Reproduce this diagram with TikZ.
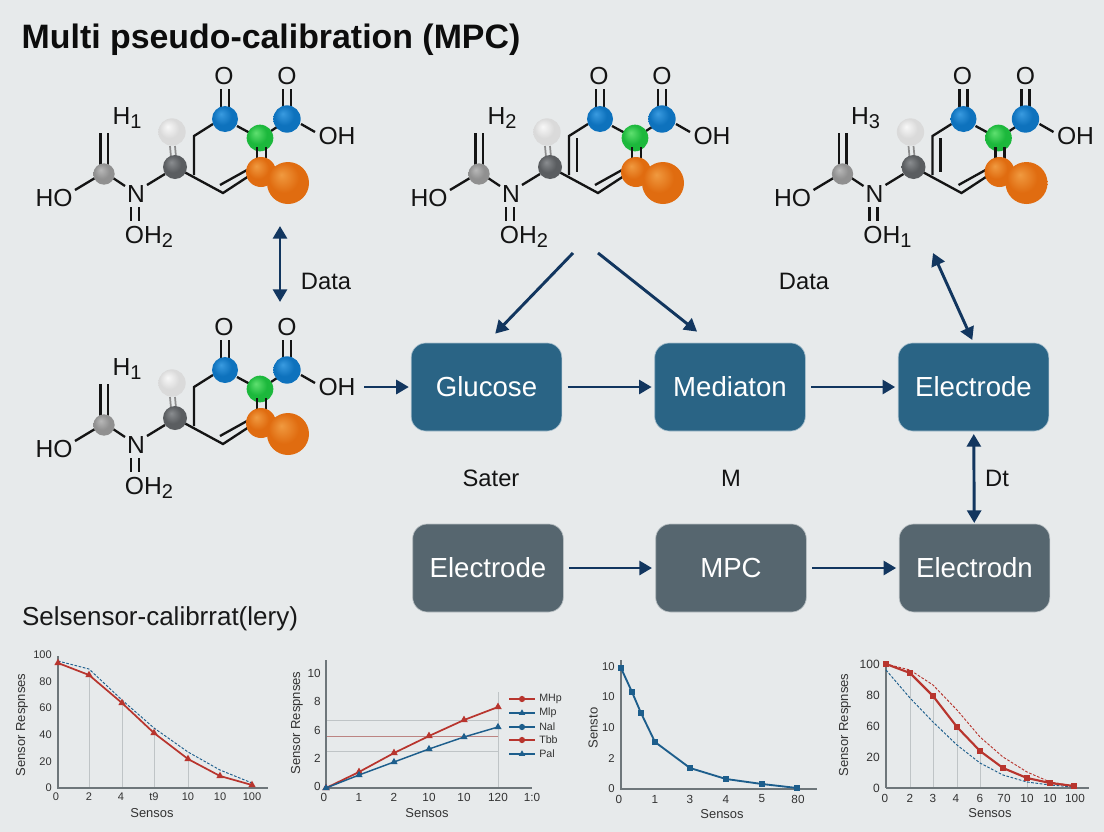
\documentclass[tikz,border=0pt]{standalone}
\usepackage{fontspec}
\setmainfont{Liberation Sans}
\usetikzlibrary{arrows.meta,plotmarks}
\definecolor{bgc}{HTML}{E7EAEB}
\definecolor{boxblue}{HTML}{2A6485}
\definecolor{boxgrey}{HTML}{56666F}
\definecolor{arrc}{HTML}{12365F}
\definecolor{axc}{HTML}{6E767A}
\definecolor{gridc}{HTML}{BFC4C6}
\definecolor{redl}{HTML}{B8352E}
\definecolor{bluel}{HTML}{1D5E8C}
\definecolor{bA}{HTML}{3A9BE0}\definecolor{bB}{HTML}{0E72BD}\definecolor{bC}{HTML}{0A5790}
\definecolor{gA}{HTML}{5FE070}\definecolor{gB}{HTML}{1CB83C}\definecolor{gC}{HTML}{0F8A2A}
\definecolor{oA}{HTML}{F09A40}\definecolor{oB}{HTML}{E06C10}\definecolor{oC}{HTML}{B55008}
\definecolor{wA}{HTML}{F8F8F8}\definecolor{wB}{HTML}{DADADA}\definecolor{wC}{HTML}{B0B0B0}
\definecolor{cA}{HTML}{B8B8B8}\definecolor{cB}{HTML}{909090}\definecolor{cC}{HTML}{6E6E6E}
\definecolor{dA}{HTML}{8A8D90}\definecolor{dB}{HTML}{5A5D60}\definecolor{dC}{HTML}{3C3F42}
\pgfdeclareradialshading{sblue}{\pgfpoint{-8bp}{10bp}}{color(0bp)=(bA);color(18bp)=(bB);color(38bp)=(bB);color(50bp)=(bC)}
\pgfdeclareradialshading{sgreen}{\pgfpoint{-8bp}{10bp}}{color(0bp)=(gA);color(18bp)=(gB);color(38bp)=(gB);color(50bp)=(gC)}
\pgfdeclareradialshading{sorange}{\pgfpoint{-8bp}{10bp}}{color(0bp)=(oA);color(18bp)=(oB);color(38bp)=(oB);color(50bp)=(oC)}
\pgfdeclareradialshading{swhite}{\pgfpoint{-8bp}{10bp}}{color(0bp)=(wA);color(18bp)=(wB);color(38bp)=(wB);color(50bp)=(wC)}
\pgfdeclareradialshading{sgray}{\pgfpoint{-8bp}{10bp}}{color(0bp)=(cA);color(18bp)=(cB);color(38bp)=(cB);color(50bp)=(cC)}
\pgfdeclareradialshading{sdark}{\pgfpoint{-8bp}{10bp}}{color(0bp)=(dA);color(18bp)=(dB);color(38bp)=(dB);color(50bp)=(dC)}
\newcommand{\fs}[1]{\fontsize{#1}{#1}\selectfont}
\newcommand{\subdig}[1]{\raisebox{-0.28ex}{\fs{15}#1}}
\newcounter{lb}
\newcommand{\lbl}[3][]{\stepcounter{lb}\node[#1] (lb\thelb) at (#2) {#3};}
\tikzset{
  x=.75pt,y=-.75pt,
  atom/.style={circle,inner sep=0pt,draw=none},
  chem/.style={inner sep=0pt,font=\fs{18.5},text=black!92},
  bond/.style={line width=1.75pt,color=black!92},
  lite/.style={line width=1.3pt,color=black!45},
  flow/.style={rounded corners=11pt,minimum width=113pt,minimum height=66pt,inner sep=0pt,text=white,font=\fs{20.7},draw=white!60!boxblue,line width=.5pt},
  arr/.style={line width=2.2pt,color=arrc,-{Triangle[length=9.5pt,width=10.5pt]}},
  darr/.style={line width=2.2pt,color=arrc,{Triangle[length=9.5pt,width=10.5pt]}-{Triangle[length=9.5pt,width=10.5pt]}},
  capt/.style={inner sep=0pt,font=\fs{17.8},text=black!92},
  tklab/.style={inner sep=0pt,font=\fs{8.3},text=black!80},
  atitle/.style={inner sep=0pt,font=\fs{9.7},text=black!80},
  ytitle/.style={inner sep=0pt,font=\fs{9.8},text=black!80,rotate=90},
  axisl/.style={line width=.9pt,color=axc},
  gridl/.style={line width=.6pt,color=gridc},
  redp/.style={line width=1.3pt,color=redl},
  bluep/.style={line width=1.1pt,color=bluel},
  reddash/.style={line width=.7pt,color=redl,dash pattern=on 2pt off 1.2pt},
  bluedash/.style={line width=.7pt,color=bluel,dash pattern=on 2pt off 1.2pt},
}
% #1 prefix, #2 dx, #3 dy, #4 H label, #5 lower label, #6 extra ring line 
\newcommand{\mol}[6]{%
\begin{scope}[shift={(#2,#3)}]
  \node[chem] (#1-o1) at (224,76) {O};
  \node[chem] (#1-o2) at (287,76) {O};
  \node[chem] (#1-oh) at (337,136) {OH};
  \node[chem] (#1-ho) at (54,198) {HO};
  \node[chem] (#1-n) at (136,194) {N};
  \node[chem] (#1-low) at (149,237) {#5};
  \node[chem] (#1-h) at (127,118) {#4};
  \coordinate (#1-r1) at (194,136);
  \coordinate (#1-r2) at (194,175);
  \coordinate (#1-r3) at (223,193);
  \draw[bond] (#1-r2) -- (#1-r1) -- (213,124);
  \draw[bond] (175,167) -- (#1-r3) -- (252,174);
  \draw[bond] (220,185) -- (247,170);
  #6
  \draw[bond] (237,126) -- (250,133);
  \draw[bond] (271,131) -- (277,127);
  \draw[bond] (301,124) -- (315,132);
  \draw[bond] (221,89) -- (221,108); \draw[bond] (229,89) -- (229,108);
  \draw[bond] (283,89) -- (283,108); \draw[bond] (291,89) -- (291,108);
  \draw[bond] (100.5,133) -- (100.5,165); \draw[bond] (108,133) -- (108,165);
  \draw[bond] (75,190) -- (95,178);
  \draw[bond] (113,178) -- (125,186);
  \draw[bond] (147,185) -- (165,174);
  \draw[bond] (131,207) -- (131,221); \draw[bond] (139,207) -- (139,221);
  \draw[lite] (170,146) -- (171,157); \draw[lite] (175,146) -- (176,157);
  \node[atom,minimum size=19.5pt,shading=sblue] (#1-b1) at (225,119) {};
  \node[atom,minimum size=20.5pt,shading=sblue] (#1-b2) at (287,119) {};
  \node[atom,minimum size=20pt,shading=sgreen] (#1-g) at (260,138) {};
  \draw[bond] (257,147) -- (257,160); \draw[bond] (266,147) -- (266,160);
  \node[atom,minimum size=22.5pt,shading=sorange] (#1-s) at (261,172) {};
  \node[atom,minimum size=31.5pt,shading=sorange] (#1-l) at (288,183) {};
  \node[atom,minimum size=20.5pt,shading=swhite] (#1-w) at (172,132) {};
  \node[atom,minimum size=18pt,shading=sdark] (#1-d) at (175,167) {};
  \node[atom,minimum size=16pt,shading=sgray] (#1-c) at (104,174) {};
\end{scope}}
\begin{document}
\begin{tikzpicture}
\useasboundingbox (0,0) rectangle (1104,832);
\fill[bgc] (0,0) rectangle (1104,832);

\node[inner sep=0pt,font=\bfseries\fs{25.4},text=black!95] (title) at (271,40) {Multi pseudo-calibration (MPC)};
\node[inner sep=0pt,font=\fs{19.5},text=black!90] (sect) at (160,619) {Selsensor-calibrrat(lery)};

\mol{a}{0}{0}{H\subdig{1}}{OH\subdig{2}}{}
\mol{b}{375}{0}{H\subdig{2}}{OH\subdig{2}}{\draw[bond] (202,138) -- (202,172);}
\mol{c}{738.5}{0}{H\subdig{3}}{OH\subdig{1}}{\draw[bond] (202,138) -- (202,172);}
\mol{d}{0}{251}{H\subdig{1}}{OH\subdig{2}}{}

\node[flow,fill=boxblue] (glu) at (486.5,387) {Glucose};
\node[flow,fill=boxblue] (med) at (730,387) {Mediaton};
\node[flow,fill=boxblue] (ele) at (973.5,387) {Electrode};
\node[flow,fill=boxgrey,draw=white!60!boxgrey] (el2) at (488,568) {Electrode};
\node[flow,fill=boxgrey,draw=white!60!boxgrey] (mpc) at (731,568) {MPC};
\node[flow,fill=boxgrey,draw=white!60!boxgrey] (eln) at (974.5,568) {Electrodn};

\node[capt] (data1) at (326,281) {Data};
\node[capt] (data2) at (804,281) {Data};
\node[capt] (sater) at (491,478) {Sater};
\node[capt] (mm) at (731,478) {M};
\node[capt] (dt) at (997,478) {Dt};

\coordinate (v1) at (280,226);
\coordinate (v2) at (280,302);
\coordinate (a1) at (573,253);
\coordinate (a2) at (598,253);
\coordinate (a3) at (933,253);
\draw[darr] (v1) -- (v2);
\draw[arr,shorten <=6.5pt,shorten >=1.5pt] (d-oh) -- (glu);
\draw[arr,shorten >=9.4pt] (a1) -- (glu.north);
\draw[arr,shorten >=13.3pt] (a2) -- ([xshift=-14.25pt]med.north);
\draw[darr,shorten >=2.2pt] (a3) -- (ele.north);
\draw[arr,shorten <=4pt,shorten >=2pt] (glu) -- (med);
\draw[arr,shorten <=4pt,shorten >=2pt] (med) -- (ele);
\draw[arr,shorten <=4pt,shorten >=2.5pt] (el2) -- (mpc);
\draw[arr,shorten <=4pt,shorten >=2pt] (mpc) -- (eln);
\draw[darr,shorten <=2pt,shorten >=.5pt] (ele) -- (eln);

% chart 1
\foreach \x/\y in {89/675,122/703,154/733,188/759} {\draw[gridl] (\x,\y) -- (\x,788);}
\draw[axisl] (58,656) -- (58,788) -- (268,788);
\draw[bluedash] plot coordinates {(58,661)(89,669)(122,700)(154,728)(188,752)(220,770)(252,783)};
\draw[redp] plot[mark=triangle*,mark size=1.9pt,mark options={solid,fill=redl}] coordinates {(58,663)(89,675)(122,703)(154,733)(188,759)(220,776)(252,785)};
\foreach \y/\t in {655/100,682/80,708/60,735/40,762/20,788/0} {\lbl[tklab,anchor=east]{52,\y}{\t}}
\foreach \x/\t in {56/0,89/2,121/4,154/t9,188/10,220/10,252/100} {\lbl[tklab]{\x,797}{\t}}
\lbl[atitle]{152,813}{Sensos}
\lbl[ytitle]{22,725}{Sensor Respnses}

% chart 2
\draw[gridl] (326,720) -- (498,720);
\draw[gridl,color=redl!45!gridc] (326,736) -- (498,736);
\draw[gridl] (326,751) -- (498,751);
\draw[gridl] (498,692) -- (498,788);
\draw[axisl] (326,660) -- (326,788) -- (532,788);
\draw[redp] plot[mark=triangle*,mark size=2pt,mark options={solid,fill=redl}] coordinates {(326,788)(359,772)(394,753)(429,736)(464,720)(498,707)};
\draw[bluep] plot[mark=triangle*,mark size=2pt,mark options={solid,fill=bluel}] coordinates {(326,788)(359,775)(394,762)(429,749)(464,737)(498,727)};
\foreach \y/\t in {673/10,701/8,730/6,758/2,786/0} {\lbl[tklab,anchor=east,font=\fs{8.8}]{321,\y}{\t}}
\foreach \x/\t in {324/0,359/1,394/2,429/10,464/10,498/120,532/1:0} {\lbl[tklab,font=\fs{8.8}]{\x,797}{\t}}
\lbl[atitle]{427,813}{Sensos}
\lbl[ytitle]{297,723}{Sensor Respnses}
\foreach \y/\t/\c/\m in {699/MHp/redl/*,713/Mlp/bluel/triangle*,727/Nal/bluel/*,740/Tbb/redl/*,754/Pal/bluel/triangle*}{
  \draw[line width=1pt,color=\c] plot[mark=\m,mark size=1.8pt,mark options={solid,fill=\c},mark indices={2}] coordinates {(509,\y)(522,\y)(535,\y)};
  \lbl[tklab,anchor=west,font=\fs{8}]{539,\y}{\t}
}

% chart 3
\draw[axisl] (621,660) -- (621,789) -- (817,789);
\draw[line width=1.4pt,color=bluel] plot[mark=square*,mark size=1.4pt,mark options={solid,fill=bluel}] coordinates {(621,668)(632,692)(641,713)(655,742)(690,768)(726,779)(762,784)(797,788)};
\foreach \y/\t in {667/10,697/10,728/10,759/2,789/0} {\lbl[tklab,anchor=east,font=\fs{8.5}]{615,\y}{\t}}
\foreach \x/\t in {619/0,655/1,690/3,726/4,762/5,798/80} {\lbl[tklab,font=\fs{8.8}]{\x,799}{\t}}
\lbl[atitle]{722,814}{Sensos}
\lbl[ytitle]{593,728}{Sensto}

% chart 4
\foreach \x/\y in {910/673,933/696,957/727,980/751,1027/778} {\draw[gridl] (\x,\y) -- (\x,788);}
\draw[axisl,line width=1.5pt] (886,661) -- (886,788);
\draw[axisl] (886,788) -- (1089,788);
\draw[bluedash] plot coordinates {(886,670)(910,698)(933,722)(957,745)(980,763)(1003,775)(1027,782)(1050,785)(1074,787)};
\draw[reddash] plot coordinates {(886,664)(910,670)(933,685)(957,710)(980,737)(1003,757)(1027,772)(1050,782)(1074,786)};
\draw[redp,line width=1.6pt] plot[mark=square*,mark size=1.8pt,mark options={solid,fill=redl}] coordinates {(886,664)(910,673)(933,696)(957,727)(980,751)(1003,768)(1027,778)(1050,783)(1074,786)};
\foreach \y/\t in {664/100,695/80,726/60,757/20,788/0} {\lbl[tklab,anchor=east,font=\fs{9}]{880,\y}{\t}}
\foreach \x/\t in {885/0,910/2,933/3,956/4,980/6,1004/70,1027/10,1050/10,1075/100} {\lbl[tklab,font=\fs{8.8}]{\x,798}{\t}}
\lbl[atitle]{990,813}{Sensos}
\lbl[ytitle]{845,725}{Sensor Respnses}
\end{tikzpicture}
\end{document}
